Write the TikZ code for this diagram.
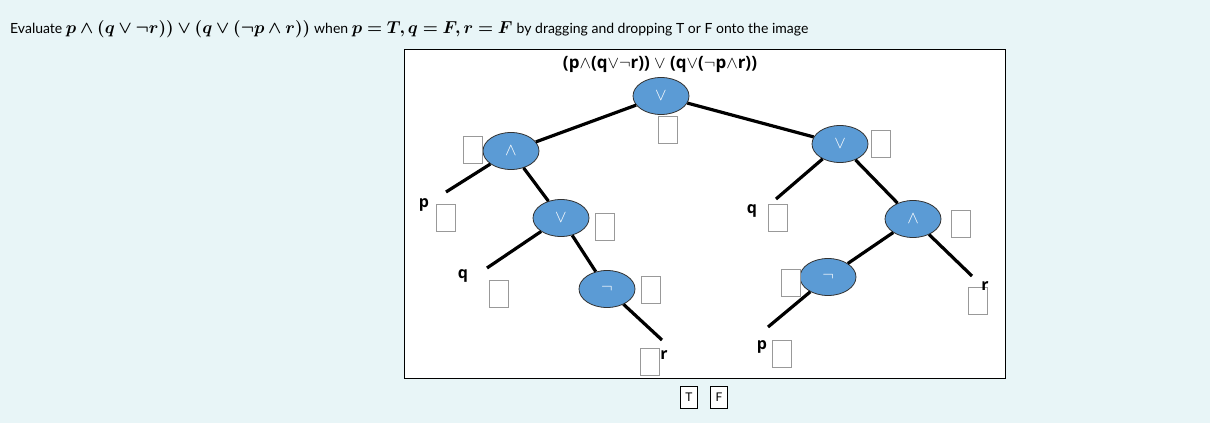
\documentclass[tikz,border=0pt]{standalone}
\usepackage{amsmath,amssymb}
\usepackage{bm}
\usepackage{fontspec}
\setmainfont{Lato}
\setsansfont{Open Sans}
\begin{document}
\begin{tikzpicture}[x=1pt,y=-1pt,
  op/.style={ellipse,draw=black!80,line width=0.8pt,fill=opblue,minimum width=56pt,minimum height=37pt,inner sep=0pt,text=white,font=\fontsize{18}{18}\selectfont},
  ans/.style={draw=gray!80,line width=0.8pt,fill=white,minimum width=19pt,minimum height=27pt,inner sep=0pt},
  lbl/.style={font=\sffamily\bfseries\fontsize{16}{16}\selectfont,inner sep=0pt},
  edge/.style={line width=3.2pt},
  tile/.style={draw=black,fill=white,minimum width=17pt,minimum height=22pt,inner sep=0pt,font=\fontsize{12}{12}\selectfont}]
\usetikzlibrary{shapes.geometric}
\definecolor{opblue}{HTML}{5B9BD5}
\definecolor{bg}{HTML}{E8F5F7}
\fill[bg] (0,0) rectangle (1210,423);
\useasboundingbox (0,0) rectangle (1210,423);
\node[anchor=west,inner sep=0pt,font=\fontsize{14}{14}\selectfont] (title) at (10,29)
 {Evaluate \fontsize{16}{16}\selectfont$\bm{p\wedge(q\vee\neg r))\vee(q\vee(\neg p\wedge r))}$ \fontsize{14}{14}\selectfont when \fontsize{16}{16}\selectfont$\bm{p=T,q=F,r=F}$ \fontsize{14}{14}\selectfont by dragging and dropping T or F onto the image};
\node[draw=black,fill=white,line width=0.8pt,minimum width=601pt,minimum height=329pt,inner sep=0pt,anchor=north west] (frame) at (404,49) {};
\node[font=\sffamily\bfseries\fontsize{17}{17}\selectfont] (formula) at (660,64) {(p$\wedge$(q$\vee\neg$r)) $\vee$ (q$\vee$($\neg$p$\wedge$r))};
\node[op] (root) at (661,96) {$\vee$};
\node[op] (L1) at (511,151) {$\wedge$};
\node[op] (R1) at (840,144) {$\vee$};
\node[op] (L2) at (561,218) {$\vee$};
\node[op] (R2) at (913,219) {$\wedge$};
\node[op] (L3) at (607,289) {$\neg$};
\node[op] (R3) at (828,277) {$\neg$};
\foreach \n/\x/\y in {b0/668/130,b1/473/150,b2/881/144,b3/446/218,b4/605/227,b5/778/218,b6/961/224,b7/499/294,b8/651/290,b9/791/283,b10/978/301,b11/650/362,b12/782/354}
  \node[ans] (\n) at (\x,\y) {};
\node[lbl] (lp1) at (424,205) {p};
\node[lbl] (lq1) at (463,276) {q};
\node[lbl] (lr1) at (664,355) {r};
\node[lbl] (lq2) at (752,211) {q};
\node[lbl] (lp2) at (762,347) {p};
\node[lbl] (lr2) at (985,286) {r};
\coordinate (ep1) at (446,192);
\coordinate (eq1) at (487,268);
\coordinate (er1) at (662,340);
\coordinate (eq2) at (776,199);
\coordinate (ep2) at (768,327);
\coordinate (er2) at (972,276);
\draw[edge] (root) -- (L1);
\draw[edge] (root) -- (R1);
\draw[edge] (L1) -- (ep1);
\draw[edge] (L1) -- (L2);
\draw[edge] (L2) -- (eq1);
\draw[edge] (L2) -- (L3);
\draw[edge] (L3) -- (er1);
\draw[edge] (R1) -- (eq2);
\draw[edge] (R1) -- (R2);
\draw[edge] (R2) -- (R3);
\draw[edge] (R2) -- (er2);
\draw[edge] (R3) -- (ep2);
\node[tile] (T) at (689,397) {T};
\node[tile] (F) at (719,397) {F};
\end{tikzpicture}
\end{document}
